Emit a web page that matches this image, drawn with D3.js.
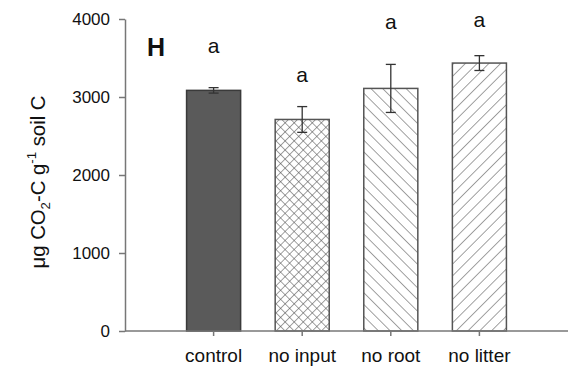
<!DOCTYPE html>
<html>
<head>
<meta charset="utf-8">
<script src="https://cdn.jsdelivr.net/npm/d3@7"></script>
<style>
body { margin: 0; background: #fff; }
text { font-family: "Liberation Sans", Arial, sans-serif; }
</style>
</head>
<body>
<script>
// data
let categories = ['control', 'no input', 'no root', 'no litter'];
let means = [3085, 2712, 3110, 3435];
let errors = [35, 165, 308, 95];
let letters = ['a', 'a', 'a', 'a'];
let letterPos = [3565, 3195, 3875, 3900];
let yTicks = [0, 1000, 2000, 3000, 4000];

let frame = { width: 570, height: 371 };
let plot = { left: 125, right: 568, top: 19, bottom: 331 };

let svg = d3.select('body')
	.append('svg')
	.attr('width', frame.width)
	.attr('height', frame.height);

// hatch patterns
let defs = svg.append('defs');
function hatch(id, angle, size, cross) {
	let p = defs.append('pattern')
		.attr('id', id)
		.attr('patternUnits', 'userSpaceOnUse')
		.attr('width', size)
		.attr('height', size)
		.attr('patternTransform', `rotate(${angle})`);
	p.append('rect').attr('width', size).attr('height', size).attr('fill', '#fff');
	p.append('line').attr('x1', 0).attr('y1', 0).attr('x2', 0).attr('y2', size)
		.attr('stroke', '#555').attr('stroke-width', 1.1);
	if (cross) {
		p.append('line').attr('x1', 0).attr('y1', 0).attr('x2', size).attr('y2', 0)
			.attr('stroke', '#555').attr('stroke-width', 1.1);
	}
}
hatch('cross', 45, 6.4, true);
hatch('back', -45, 8.3, false);
hatch('fwd', 45, 8.3, false);
let fills = ['#5a5a5a', 'url(#cross)', 'url(#back)', 'url(#fwd)'];

let step = (plot.right - plot.left) / (categories.length + 1);
let xScale = d3.scaleBand()
	.domain(categories)
	.range([plot.left + step / 2, plot.right - step / 2])
	.paddingInner(0.39)
	.paddingOuter(0.195);

let yScale = d3.scaleLinear()
	.domain([0, 4000])
	.range([plot.bottom, plot.top]);

// bars
svg.selectAll('.bar')
	.data(categories)
	.enter()
	.append('rect')
	.attr('class', 'bar')
	.attr('x', d => xScale(d))
	.attr('y', (d, i) => yScale(means[i]))
	.attr('width', xScale.bandwidth())
	.attr('height', (d, i) => yScale(0) - yScale(means[i]))
	.attr('fill', (d, i) => fills[i])
	.attr('stroke', (d, i) => i === 0 ? '#3a3a3a' : '#555')
	.attr('stroke-width', 1.5);

// error bars
let cap = 5;
let eb = svg.selectAll('.err')
	.data(categories)
	.enter()
	.append('g')
	.attr('class', 'err')
	.attr('stroke', '#333')
	.attr('stroke-width', 1.3);
eb.append('line')
	.attr('x1', d => xScale(d) + xScale.bandwidth() / 2)
	.attr('x2', d => xScale(d) + xScale.bandwidth() / 2)
	.attr('y1', (d, i) => yScale(means[i] - errors[i]))
	.attr('y2', (d, i) => yScale(means[i] + errors[i]));
[1, -1].forEach(s => {
	eb.append('line')
		.attr('x1', d => xScale(d) + xScale.bandwidth() / 2 - cap)
		.attr('x2', d => xScale(d) + xScale.bandwidth() / 2 + cap)
		.attr('y1', (d, i) => yScale(means[i] + s * errors[i]))
		.attr('y2', (d, i) => yScale(means[i] + s * errors[i]));
});

// letters
svg.selectAll('.letter')
	.data(categories)
	.enter()
	.append('text')
	.attr('class', 'letter')
	.attr('x', d => xScale(d) + xScale.bandwidth() / 2)
	.attr('y', (d, i) => yScale(letterPos[i]))
	.attr('text-anchor', 'middle')
	.attr('font-size', 21)
	.attr('fill', '#111')
	.text((d, i) => letters[i]);

// axes
let yAxis = svg.append('g')
	.attr('transform', `translate(${plot.left},0)`)
	.call(d3.axisLeft(yScale).tickValues(yTicks).tickFormat(d3.format('d'))
		.tickSize(6).tickSizeOuter(0).tickPadding(9));
yAxis.attr('font-size', null).attr('font-family', null);
yAxis.selectAll('text').attr('font-size', 17).attr('fill', '#111');
yAxis.selectAll('line, path').attr('stroke', '#777').attr('stroke-width', 1.5);

let xAxis = svg.append('g')
	.attr('transform', `translate(0,${plot.bottom})`);
xAxis.append('line')
	.attr('x1', plot.left).attr('x2', plot.right)
	.attr('y1', 0).attr('y2', 0);
xAxis.selectAll('.tick')
	.data(categories)
	.enter()
	.append('line')
	.attr('x1', d => xScale(d) + xScale.bandwidth() / 2)
	.attr('x2', d => xScale(d) + xScale.bandwidth() / 2)
	.attr('y1', 0).attr('y2', 5);
xAxis.selectAll('line').attr('stroke', '#777').attr('stroke-width', 1.5);
xAxis.selectAll('.xlab')
	.data(categories)
	.enter()
	.append('text')
	.attr('class', 'xlab')
	.attr('x', d => xScale(d) + xScale.bandwidth() / 2)
	.attr('y', 31)
	.attr('text-anchor', 'middle')
	.attr('font-size', 19)
	.attr('fill', '#111')
	.text(d => d);

// panel letter
svg.append('text')
	.attr('x', 147)
	.attr('y', 56)
	.attr('font-size', 25)
	.attr('font-weight', 'bold')
	.attr('fill', '#111')
	.text('H');

// y label
let yl = svg.append('text')
	.attr('transform', 'translate(45,182) rotate(-90)')
	.attr('text-anchor', 'middle')
	.attr('font-size', 20)
	.attr('textLength', 173)
	.attr('lengthAdjust', 'spacingAndGlyphs')
	.attr('fill', '#111');
yl.append('tspan').text('\u03bcg CO');
yl.append('tspan').attr('font-size', 13).attr('dy', 5).text('2');
yl.append('tspan').attr('dy', -5).text('-C g');
yl.append('tspan').attr('font-size', 13).attr('dy', -9).text('-1');
yl.append('tspan').attr('dy', 9).text(' soil C');
</script>
</body>
</html>
